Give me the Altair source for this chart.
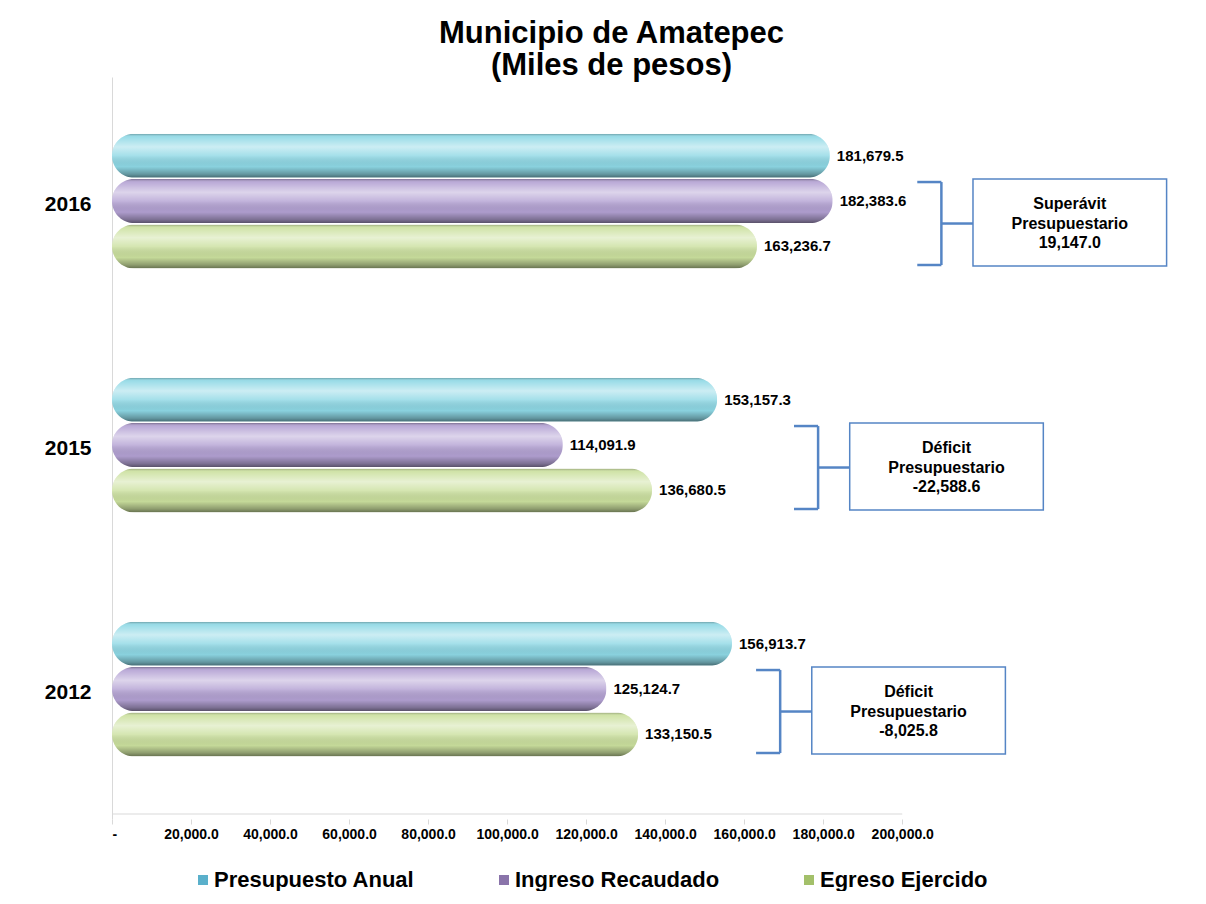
import altair as alt
import pandas as pd

# ---------------- data ----------------
years = ["2016", "2015", "2012"]
series = ["Presupuesto Anual", "Ingreso Recaudado", "Egreso Ejercido"]
presupuesto = [181679.5, 153157.3, 156913.7]
ingreso = [182383.6, 114091.9, 125124.7]
egreso = [163236.7, 136680.5, 133150.5]
resultado_tipo = ["Superávit", "Déficit", "Déficit"]
resultado = [19147.0, -22588.6, -8025.8]
x_ticks = [0, 20000, 40000, 60000, 80000, 100000, 120000, 140000, 160000, 180000, 200000]
# annotation anchors (x of each bracket, in thousands of pesos)
bracket_x = [209900, 178700, 169100]

colors = ["#8ed8e5", "#b3a1d3", "#cbe09e"]
legend_colors = ["#5ab0cb", "#8a74aa", "#a3c06a"]
FONT = "Liberation Sans"
BLUE = "#5585c5"

# ---------------- layout helpers ----------------
STEP = 0.186     # vertical step between bars of a group (y units)
SHIFT = -0.012   # shift of the bar group from the year label
X_MAX = 267000
LINE = 0.079     # line spacing inside the boxes (y units)

rows = []
vals = [presupuesto, ingreso, egreso]
for gi, yr in enumerate(years):
    for si, s in enumerate(series):
        rows.append({"anio": yr, "serie": s, "valor": vals[si][gi],
                     "pos": gi + SHIFT + (si - 1) * STEP})
bars = pd.DataFrame(rows)

segs, boxes, lines = [], [], []
for gi, yr in enumerate(years):
    bx = bracket_x[gi]
    top, bot, mid = gi - 0.09, gi + 0.25, gi + 0.08
    left, boxl, boxr = bx - 6100, bx + 8000, bx + 57000
    segs += [
        {"x": bx, "x2": bx, "y": top, "y2": bot},
        {"x": left, "x2": bx, "y": top, "y2": top},
        {"x": left, "x2": bx, "y": bot, "y2": bot},
        {"x": bx, "x2": boxl, "y": mid, "y2": mid},
    ]
    boxes.append({"x": boxl, "x2": boxr, "y": gi - 0.102, "y2": gi + 0.254})
    txt = [resultado_tipo[gi], "Presupuestario", f"{resultado[gi]:,.1f}"]
    for li, t in enumerate(txt):
        lines.append({"cx": (boxl + boxr) / 2, "cy": mid + (li - 1) * LINE, "t": t})
segs = pd.DataFrame(segs)
boxes = pd.DataFrame(boxes)
lines = pd.DataFrame(lines)

xscale = alt.Scale(domain=[0, X_MAX], nice=False, zero=True)
yscale = alt.Scale(domain=[-0.5, 2.5], reverse=True, nice=False, zero=False)

label_arr = "[" + ",".join(f"'{y}'" for y in years) + "]"
xaxis = alt.Axis(values=x_ticks, title=None, grid=False, domain=False,
                 ticks=True, tickColor="#d9d9d9", tickSize=5,
                 labelExpr="datum.value == 0 ? '-' : format(datum.value, ',.1f')",
                 labelFont=FONT, labelFontWeight="bold", labelFontSize=14,
                 labelColor="black", labelPadding=3, labelOverlap=False)
yaxis = alt.Axis(values=[0, 1, 2], title=None, grid=False, ticks=False,
                 domain=True, domainColor="#d9d9d9",
                 labelExpr=f"{label_arr}[datum.value]",
                 labelFont=FONT, labelFontWeight="bold", labelFontSize=21,
                 labelColor="black", labelPadding=21)

base = alt.Chart(bars)

bar_layer = base.mark_bar(orient="horizontal", size=44, cornerRadius=22).encode(
    x=alt.X("valor:Q", scale=xscale, axis=xaxis),
    y=alt.Y("pos:Q", scale=yscale, axis=yaxis),
    color=alt.Color("serie:N", scale=alt.Scale(domain=series, range=colors), legend=None),
)

legend_layer = base.mark_square(opacity=0, size=1).encode(
    x=alt.X("valor:Q", scale=xscale),
    y=alt.Y("pos:Q", scale=yscale),
    color=alt.Color("serie:N", scale=alt.Scale(domain=series, range=legend_colors),
                    legend=alt.Legend(orient="none", legendX=80, legendY=792,
                                      direction="horizontal", title=None,
                                      symbolType="square", symbolSize=100,
                                      symbolStrokeWidth=0, symbolOpacity=1,
                                      labelFont=FONT, labelFontWeight="bold",
                                      labelFontSize=22, labelColor="black",
                                      labelLimit=400, columnPadding=78,
                                      labelOffset=0)),
)

shade = alt.LinearGradient(
    gradient="linear", x1=0, y1=0, x2=0, y2=1,
    stops=[
        alt.GradientStop(offset=0.0, color="rgba(0,0,0,0.30)"),
        alt.GradientStop(offset=0.07, color="rgba(255,255,255,0.10)"),
        alt.GradientStop(offset=0.30, color="rgba(255,255,255,0.55)"),
        alt.GradientStop(offset=0.50, color="rgba(255,255,255,0.20)"),
        alt.GradientStop(offset=0.75, color="rgba(0,0,0,0.03)"),
        alt.GradientStop(offset=0.92, color="rgba(0,0,0,0.30)"),
        alt.GradientStop(offset=1.0, color="rgba(0,0,0,0.50)"),
    ],
)
shade_layer = base.mark_bar(orient="horizontal", size=44, cornerRadius=22,
                            fill=shade).encode(
    x=alt.X("valor:Q", scale=xscale),
    y=alt.Y("pos:Q", scale=yscale),
)

text_layer = base.mark_text(align="left", baseline="middle", dx=7, font=FONT,
                            fontWeight="bold", fontSize=15, color="black").encode(
    x=alt.X("valor:Q", scale=xscale),
    y=alt.Y("pos:Q", scale=yscale),
    text=alt.Text("valor:Q", format=",.1f"),
)

floor = alt.Chart(pd.DataFrame({"a": [x_ticks[0]], "b": [x_ticks[-1]]})).mark_rule(
    color="#d9d9d9", strokeWidth=1).encode(
    x=alt.X("a:Q", scale=xscale), x2="b:Q", y=alt.datum(2.5))

bracket = alt.Chart(segs).mark_rule(color=BLUE, strokeWidth=2.5).encode(
    x=alt.X("x:Q", scale=xscale), x2="x2:Q",
    y=alt.Y("y:Q", scale=yscale), y2="y2:Q")

box = alt.Chart(boxes).mark_rect(fill="white", stroke=BLUE, strokeWidth=1.5).encode(
    x=alt.X("x:Q", scale=xscale), x2="x2:Q",
    y=alt.Y("y:Q", scale=yscale), y2="y2:Q")

box_text = alt.Chart(lines).mark_text(align="center", baseline="middle", font=FONT,
                                      fontWeight="bold", fontSize=16, color="black").encode(
    x=alt.X("cx:Q", scale=xscale), y=alt.Y("cy:Q", scale=yscale), text="t:N")

chart = alt.layer(floor, bar_layer, shade_layer, legend_layer, text_layer,
                  bracket, box, box_text).resolve_scale(color="independent").properties(
    width=1055, height=742,
    padding={"left": 36, "top": 10, "right": 0, "bottom": 0},
    title=alt.Title(["Municipio de Amatepec", "(Miles de pesos)"], fontSize=31,
                    font=FONT, fontWeight="bold", lineHeight=32, color="black",
                    anchor="middle", dx=-28, offset=-5),
).configure(background="white").configure_view(stroke="transparent", strokeWidth=0)

chart.save("out.html", embed_options={"renderer": "svg", "actions": False})
